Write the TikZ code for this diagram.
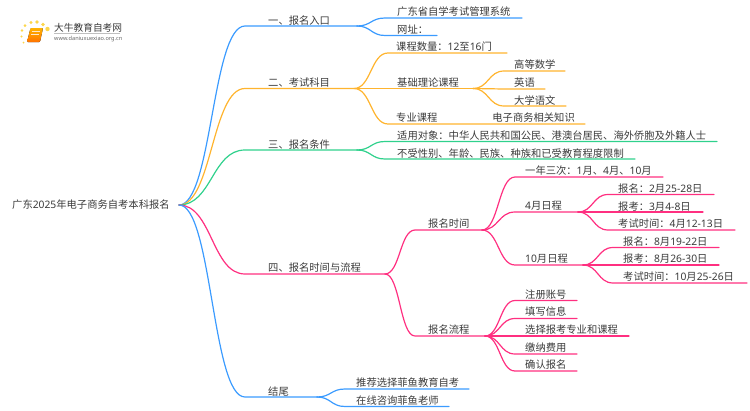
\documentclass[tikz,border=0pt]{standalone}
\usepackage{fontspec}
\setmainfont{Noto Sans CJK SC}
\newfontfamily\lat{Noto Sans}
\newcommand{\Nn}[1]{{\lat #1}}
\newcommand{\fc}{\char"FF1A\relax}
\definecolor{cblue}{HTML}{3B9BFF}
\definecolor{corange}{HTML}{FFB42E}
\definecolor{cgreen}{HTML}{2FD18C}
\definecolor{cpink}{HTML}{FF2F80}
\definecolor{ctext}{HTML}{3A3A3A}
\usetikzlibrary{calc}
\tikzset{
  lab/.style={anchor=west,inner sep=0pt,text=ctext,font=\fontsize{10.3pt}{12pt}\selectfont,yshift=-0.8pt},
  conn/.style={line width=1.2pt,line cap=round},
  dot/.style={fill=#1,draw=none,circle,inner sep=0pt,minimum size=4pt}
}
% \topic{name}{colour}{parent}{curve-end x}{line y}{end x}{text x}{text y}{text}
\newcommand{\topic}[9]{%
  \coordinate (#1-s) at (#4,#5);
  \coordinate (#1) at (#6,#5);
  \node[lab] (#1-t) at (#7,#8) {#9};
  \draw[conn,#2] (#3) .. controls ($(#3)!0.5!(#1-s|-#3)$) and ($(#1-s)!0.5!(#3|-#1-s)$) .. (#1-s) -- (#1);
}
\begin{document}
\begin{tikzpicture}[x=1pt,y=-1pt]
\useasboundingbox (0,0) rectangle (750,410);
% logo
\fill[rounded corners=1pt,top color=orange!60!yellow,bottom color=orange!90!red] (30.5,28) -- (43,28) -- (40,42) -- (27,42) -- cycle;
\draw[white!80!orange,line width=.5pt] (31.5,31.5) -- (39.5,31.5) (31,34) -- (39,34);
\foreach \i/\a/\b/\s in {a/25/25.5/3,b/31/22.5/3.4,c/37/22/3.6,d/43/24.5/3.8,e/47.5/29/4.4,f/22/30.5/2.8,g/21.5/36.5/2.4,h/23.5/42.5/2}
  \node[dot=yellow!60!orange!70,minimum size=\s pt] (logo\i) at (\a,\b) {};
\node[lab,font=\fontsize{9.7pt}{11pt}\selectfont] (logotitle) at (54,27) {大牛教育自考网};
\draw[black!25,line width=.4pt] (54,33.5) -- (120,33.5);
\node[lab,text=black!60,font=\fontsize{5.6pt}{6pt}\selectfont] (logourl) at (54,38.5) {\Nn{www.daniuxuexiao.org.cn}};
% root
\node[lab] (root-t) at (12,204) {广东\Nn{2025}年电子商务自考本科报名};
\coordinate (root) at (179,205);
% level 1
\topic{a}{cblue}{root}{245}{26}{357}{268}{20}{一、报名入口}
\topic{b}{corange}{root}{245}{88.5}{354}{268}{81.5}{二、考试科目}
\topic{c}{cgreen}{root}{245}{150}{357}{268}{143.5}{三、报名条件}
\topic{d}{cpink}{root}{245}{274}{385}{268}{267}{四、报名时间与流程}
\topic{e}{cblue}{root}{245}{397}{317}{268}{391}{结尾}
% a
\topic{a1}{cblue}{a}{385}{18}{522}{397}{11}{广东省自学考试管理系统}
\topic{a2}{cblue}{a}{385}{35.5}{437}{397}{29}{网址\fc}
% b
\topic{b1}{corange}{b}{388}{53}{507}{396}{46}{课程数量\fc\Nn{12}至\Nn{16}门}
\topic{b2}{corange}{b}{388}{88.5}{473}{397}{81.5}{基础理论课程}
\topic{b3}{corange}{b}{388}{124}{585}{396}{117}{专业课程\hspace{55pt}电子商务相关知识}
\topic{b21}{corange}{b2}{504}{71}{565}{514}{64}{高等数学}
\topic{b22}{corange}{b2}{504}{89}{545}{514}{82}{英语}
\topic{b23}{corange}{b2}{504}{106}{566}{514}{100}{大学语文}
% c
\topic{c1}{cgreen}{c}{385}{141.5}{717}{397}{134.5}{适用对象\fc 中华人民共和国公民、港澳台居民、海外侨胞及外籍人士}
\topic{c2}{cgreen}{c}{385}{159}{635}{397}{152.5}{不受性别、年龄、民族、种族和已受教育程度限制}
% d
\topic{d1}{cpink}{d}{415}{230}{482}{428}{223}{报名时间}
\topic{d2}{cpink}{d}{415}{336}{485}{428}{329}{报名流程}
\topic{d11}{cpink}{d1}{515}{177}{663}{525}{170}{一年三次\fc\Nn{1}月、\Nn{4}月、\Nn{10}月}
\topic{d12}{cpink}{d1}{515}{212}{578}{525}{205}{\Nn{4}月日程}
\topic{d13}{cpink}{d1}{515}{265}{583}{525}{258}{\Nn{10}月日程}
\topic{d121}{cpink}{d12}{608}{194.5}{714}{618}{188}{报名\fc\Nn{2}月\Nn{25-28}日}
\topic{d122}{cpink}{d12}{608}{212}{703}{618}{205.5}{报考\fc\Nn{3}月\Nn{4-8}日}
\topic{d123}{cpink}{d12}{608}{230}{735}{618}{223}{考试时间\fc\Nn{4}月\Nn{12-13}日}
\topic{d131}{cpink}{d13}{613}{247.5}{719}{623}{240.5}{报名\fc\Nn{8}月\Nn{19-22}日}
\topic{d132}{cpink}{d13}{613}{265}{719}{623}{258}{报考\fc\Nn{8}月\Nn{26-30}日}
\topic{d133}{cpink}{d13}{613}{283}{747}{623}{276}{考试时间\fc\Nn{10}月\Nn{25-26}日}
\topic{d21}{cpink}{d2}{515}{300.5}{577}{525}{293.5}{注册账号}
\topic{d22}{cpink}{d2}{515}{318.5}{577}{525}{311}{填写信息}
\topic{d23}{cpink}{d2}{515}{336}{629}{525}{329}{选择报考专业和课程}
\topic{d24}{cpink}{d2}{515}{354}{577}{525}{347}{缴纳费用}
\topic{d25}{cpink}{d2}{515}{371}{577}{525}{364}{确认报名}
% e
\topic{e1}{cblue}{e}{345}{389}{469}{356}{382}{推荐选择菲鱼教育自考}
\topic{e2}{cblue}{e}{345}{406.5}{449}{356}{400}{在线咨询菲鱼老师}
\end{tikzpicture}
\end{document}
